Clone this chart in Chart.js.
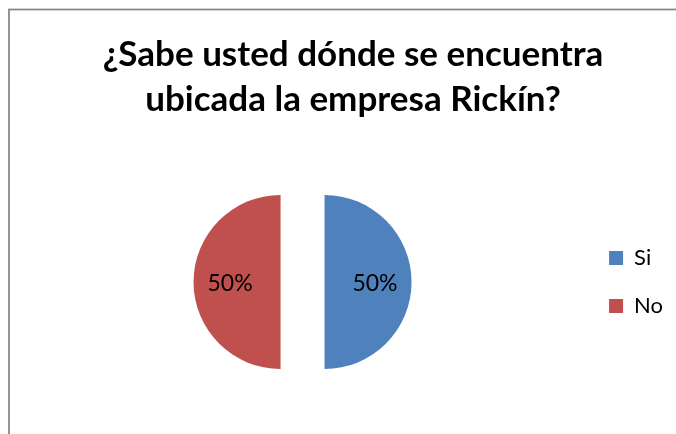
<!DOCTYPE html>
<html><head><meta charset="utf-8">
<script src="https://cdn.jsdelivr.net/npm/chart.js@4/dist/chart.umd.min.js"></script>
<style>html,body{margin:0;padding:0;background:#fff}</style>
</head><body>
<canvas id="c" width="676" height="434"></canvas>
<script>
const categories = ['Si', 'No'];
const values = [50, 50];
const titleLines = ['¿Sabe usted dónde se encuentra', 'ubicada la empresa Rickín?'];
const sliceColors = ['#4F81BD', '#C0504D'];

const FONT = 'Lato, "Open Sans", sans-serif';
const EXPLODE = 22;

const frame = {
  id: 'frame',
  beforeDraw(chart) {
    const ctx = chart.ctx;
    ctx.save();
    ctx.fillStyle = '#fff';
    ctx.fillRect(0, 0, chart.width, chart.height);
    ctx.strokeStyle = '#a3a3a3';
    ctx.lineWidth = 2;
    ctx.strokeRect(9, 9.5, 720, 520);
    ctx.strokeStyle = '#858585';
    ctx.lineWidth = 1;
    ctx.strokeRect(9, 9.5, 720, 520);
    ctx.restore();
  }
};

const areaNudge = {
  id: 'areaNudge',
  afterLayout(chart) {
    const a = chart.chartArea;
    a.right -= 11;
    a.width = a.right - a.left;
  }
};

// draw each slice pulled out from the centre with straight cut edges
const explode = {
  id: 'explode',
  beforeDatasetDraw(chart, args) {
    const ctx = chart.ctx;
    args.meta.data.forEach((arc) => {
      const mid = (arc.startAngle + arc.endAngle) / 2;
      ctx.save();
      ctx.translate(Math.cos(mid) * EXPLODE, Math.sin(mid) * EXPLODE);
      arc.draw(ctx, chart.chartArea);
      ctx.restore();
    });
    return false;
  }
};

const pctLabels = {
  id: 'pctLabels',
  afterDatasetsDraw(chart) {
    const ctx = chart.ctx;
    const meta = chart.getDatasetMeta(0);
    const data = chart.data.datasets[0].data;
    const total = data.reduce((s, v) => s + v, 0);
    ctx.save();
    ctx.font = '23px ' + FONT;
    ctx.fillStyle = '#000';
    ctx.textAlign = 'center';
    ctx.textBaseline = 'middle';
    meta.data.forEach((arc, i) => {
      const p = arc.getProps(['x', 'y', 'startAngle', 'endAngle', 'outerRadius']);
      const mid = (p.startAngle + p.endAngle) / 2;
      const d = EXPLODE + p.outerRadius * 0.58;
      const txt = Math.round(data[i] / total * 100) + '%';
      ctx.fillText(txt, p.x + Math.cos(mid) * d, p.y + Math.sin(mid) * d + 2);
    });
    ctx.restore();
  }
};

new Chart(document.getElementById('c'), {
  type: 'pie',
  data: {
    labels: categories,
    datasets: [{
      data: values,
      backgroundColor: sliceColors,
      borderWidth: 0,
      radius: 87
    }]
  },
  options: {
    responsive: false,
    animation: false,
    devicePixelRatio: 1,
    layout: { padding: { left: 33, right: 3, top: 0, bottom: 0 } },
    plugins: {
      title: {
        display: true,
        text: titleLines,
        color: '#000',
        font: { family: FONT, size: 35, weight: 'bold', lineHeight: 45 / 35 },
        padding: { top: 32.5, bottom: 7.5 }
      },
      legend: {
        position: 'right',
        fullSize: false,
        labels: {
          color: '#000',
          font: { family: FONT, size: 22 },
          boxWidth: 14,
          boxHeight: 14,
          padding: 26
        }
      },
      tooltip: { enabled: false }
    }
  },
  plugins: [frame, areaNudge, explode, pctLabels]
});
</script>
</body></html>
